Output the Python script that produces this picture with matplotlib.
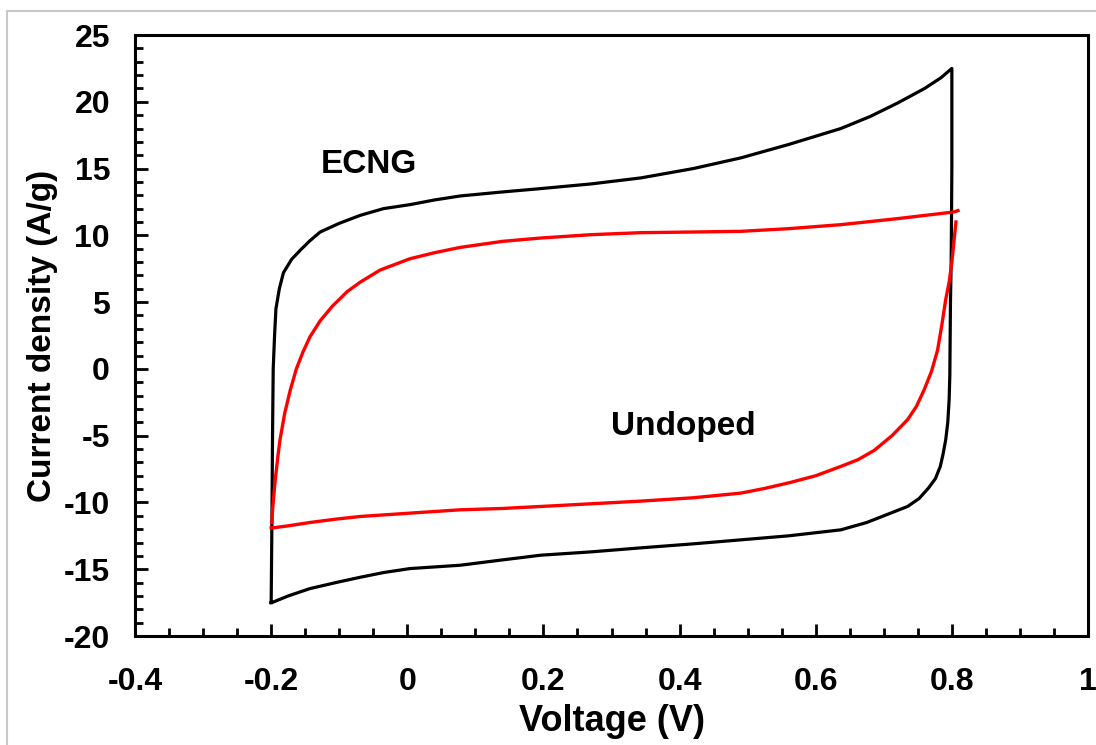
import numpy as np
import matplotlib
matplotlib.use('Agg')
from matplotlib import pyplot as plt
from matplotlib.patches import Rectangle

plt.rcParams['font.family'] = ['Liberation Sans', 'DejaVu Sans']
plt.rcParams['font.weight'] = 'bold'
plt.rcParams['axes.unicode_minus'] = False

# ECNG loop (black): forward sweep then reverse sweep
ecng_v = [-0.200, -0.199, -0.198, -0.197, -0.195, -0.193, -0.188, -0.182, -0.170, -0.157,
          -0.143, -0.128, -0.100, -0.069, -0.035, 0.004, 0.040, 0.078, 0.140, 0.196,
          0.270, 0.343, 0.420, 0.490, 0.560, 0.637, 0.680, 0.720, 0.760, 0.784,
          0.800,
          0.800, 0.799, 0.798, 0.797, 0.796, 0.794, 0.791, 0.787, 0.783, 0.776,
          0.766, 0.752, 0.735, 0.710, 0.675, 0.637, 0.560, 0.490, 0.420, 0.343,
          0.270, 0.196, 0.140, 0.078, 0.004, -0.035, -0.069, -0.105, -0.143, -0.175,
          -0.199, -0.200]
ecng_i = [-17.5, -12.0, -5.0, 0.0, 2.5, 4.5, 6.0, 7.2, 8.2, 8.9,
          9.6, 10.25, 10.9, 11.5, 12.0, 12.3, 12.65, 12.95, 13.25, 13.5,
          13.85, 14.3, 15.0, 15.8, 16.8, 18.0, 18.9, 19.9, 21.0, 21.8,
          22.5,
          15.0, 8.0, 5.2, -0.5, -2.3, -4.0, -5.3, -6.4, -7.3, -8.2,
          -8.9, -9.7, -10.3, -10.8, -11.5, -12.05, -12.5, -12.8, -13.1, -13.4,
          -13.7, -13.95, -14.3, -14.7, -14.95, -15.25, -15.6, -16.0, -16.45, -17.0,
          -17.5, -17.5]

# Undoped loop (red), forward sweep
und_v = [-0.199, -0.198, -0.196, -0.194, -0.190, -0.187, -0.180, -0.172, -0.163, -0.153,
         -0.143, -0.128, -0.110, -0.088, -0.069, -0.040, 0.004, 0.040, 0.078, 0.140,
         0.196, 0.270, 0.343, 0.420, 0.490, 0.560, 0.637, 0.720, 0.803, 0.809]
und_i = [-11.5, -10.6, -9.4, -8.3, -6.5, -5.3, -3.3, -1.6, 0.0, 1.3,
         2.4, 3.6, 4.7, 5.8, 6.5, 7.4, 8.25, 8.7, 9.1, 9.55,
         9.8, 10.05, 10.2, 10.25, 10.3, 10.5, 10.8, 11.25, 11.75, 11.85]
# Undoped loop (red), reverse sweep
und_rv = [0.806, 0.803, 0.800, 0.796, 0.791, 0.785, 0.779, 0.770, 0.759, 0.748,
          0.735, 0.712, 0.686, 0.662, 0.637, 0.600, 0.563, 0.525, 0.490, 0.420,
          0.343, 0.270, 0.196, 0.140, 0.078, 0.004, -0.069, -0.105, -0.143, -0.175,
          -0.197, -0.200]
und_ri = [11.0, 9.5, 8.0, 6.5, 5.2, 3.2, 1.4, -0.2, -1.6, -2.8,
          -3.8, -5.0, -6.1, -6.8, -7.3, -8.0, -8.5, -8.95, -9.3, -9.65,
          -9.9, -10.1, -10.3, -10.45, -10.55, -10.8, -11.05, -11.25, -11.5, -11.75,
          -11.9, -11.9]

xticks = [-0.4, -0.2, 0, 0.2, 0.4, 0.6, 0.8, 1]
xtick_labels = ['-0.4', '-0.2', '0', '0.2', '0.4', '0.6', '0.8', '1']
yticks = [-20, -15, -10, -5, 0, 5, 10, 15, 20, 25]

fig = plt.figure(figsize=(10.96, 7.45), dpi=100)
ax = fig.add_axes([0.1232, 0.1463, 0.8695, 0.8067])

ax.plot(ecng_v, ecng_i, color='black', lw=2.3)
ax.plot(und_v, und_i, color='red', lw=2.4)
ax.plot(und_rv, und_ri, color='red', lw=2.4)

ax.text(-0.057, 15.3, 'ECNG', fontsize=24, fontweight='bold', ha='center', va='center')
ax.text(0.406, -4.3, 'Undoped', fontsize=24, fontweight='bold', ha='center', va='center')

ax.set_xlim(-0.4, 1)
ax.set_ylim(-20, 25)
ax.set_xticks(xticks)
ax.set_xticklabels(xtick_labels)
ax.set_yticks(yticks)
ax.set_xticks(np.arange(-0.4, 1.001, 0.05), minor=True)
ax.set_yticks(np.arange(-20, 25.1, 1), minor=True)
ax.tick_params(axis='both', which='major', direction='in', length=9, width=2,
               labelsize=23, top=False, right=False)
ax.tick_params(axis='both', which='minor', direction='in', length=6, width=2,
               top=False, right=False)
ax.tick_params(axis='x', which='major', pad=22)
ax.tick_params(axis='y', which='major', pad=18)
for lab in ax.get_xticklabels() + ax.get_yticklabels():
    lab.set_fontweight('bold')
for s in ax.spines.values():
    s.set_linewidth(2.2)

ax.set_xlabel('Voltage (V)', fontsize=26, fontweight='bold', labelpad=5)
ax.set_ylabel('Current density (A/g)', fontsize=24, fontweight='bold', labelpad=4)

# light gray frame around the picture
fig.patches.append(Rectangle((7 / 1096, -0.1), 1.2, 1 - 11 / 745 + 0.1,
                             transform=fig.transFigure, fill=False,
                             edgecolor='#c8c8c8', lw=1.5))

fig.savefig('out.png', dpi=100)
